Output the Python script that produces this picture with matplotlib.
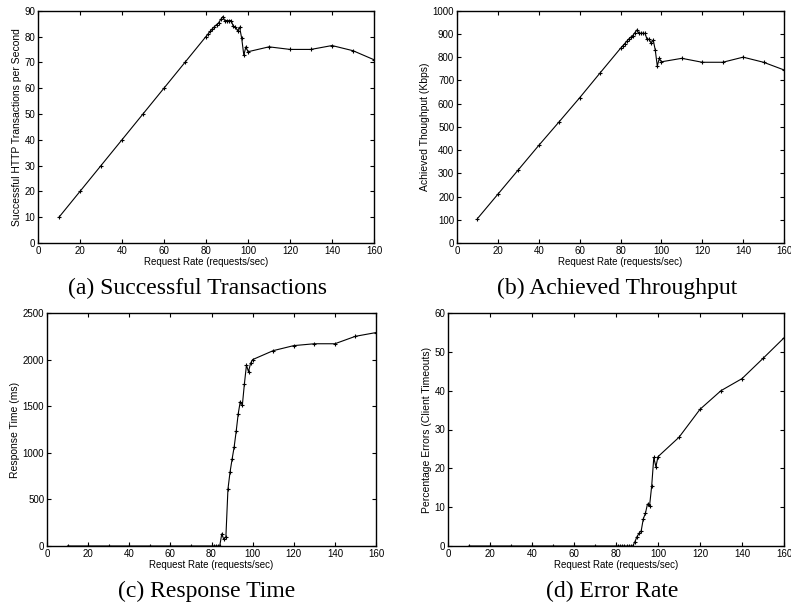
import matplotlib
matplotlib.use("Agg")
import matplotlib.pyplot as plt

# ---- data ----
rate_low = [10, 20, 30, 40, 50, 60, 70]
rate_dense = [80, 81, 82, 83, 84, 85, 86, 87, 88, 89, 90, 91, 92, 93, 94, 95, 96, 97, 98, 99, 100]
rate_high = [110, 120, 130, 140, 150, 160]
rates = rate_low + rate_dense + rate_high

trans_low = [10, 20, 30, 40, 50, 60, 70]
trans_dense = [80, 81, 82, 83, 83.8, 84.6, 85.3, 86.6, 87.7, 86.1, 86.2, 86.1, 86.2, 83.9, 83.7,
               82.3, 83.6, 79.3, 72.8, 76, 74.1]
trans_high = [76, 75, 75, 76.5, 74.5, 71]

thr_low = [105, 210, 315, 420, 522, 625, 732]
thr_dense = [838, 848, 858, 868, 878, 886, 893, 905, 917, 903, 903, 903, 902, 877, 877,
             860, 874, 831, 762, 795, 780]
thr_high = [795, 778, 778, 800, 778, 745]

resp_low = [0, 0, 0, 0, 0, 0, 0]
resp_dense = [0, 0, 0, 0, 0, 130, 70, 100, 610, 790, 930, 1060, 1230, 1420, 1550,
              1510, 1740, 1940, 1870, 1960, 2000]
resp_high = [2096, 2150, 2170, 2170, 2250, 2290]

err_low = [0, 0, 0, 0, 0, 0, 0]
err_dense = [0, 0, 0, 0, 0, 0, 0, 0, 0, 1.1, 2.4, 3.3, 3.9, 7.0, 8.4,
             10.8, 10.4, 15.5, 22.8, 20.4, 23]
err_high = [28, 35.2, 40, 43.1, 48.3, 53.6]

panels = [
    dict(y=trans_low + trans_dense + trans_high, ylim=(0, 90), ystep=10,
         ylabel="Successful HTTP Transactions per Second", caption="(a) Successful Transactions",
         rect=[38, 10.7, 374, 243], cx=198),
    dict(y=thr_low + thr_dense + thr_high, ylim=(0, 1000), ystep=100,
         ylabel="Achieved Thoughput (Kbps)", caption="(b) Achieved Throughput",
         rect=[457, 10.7, 784, 243], cx=617),
    dict(y=resp_low + resp_dense + resp_high, ylim=(0, 2500), ystep=500,
         ylabel="Response Time (ms)", caption="(c) Response Time",
         rect=[47, 313, 376, 546], cx=207),
    dict(y=err_low + err_dense + err_high, ylim=(0, 60), ystep=10,
         ylabel="Percentage Errors (Client Timeouts)", caption="(d) Error Rate",
         rect=[448, 313, 784, 546], cx=612),
]

W, H = 791, 605
fig = plt.figure(figsize=(W / 100, H / 100), dpi=100)
sans = ["Liberation Sans", "DejaVu Sans"]
serif = ["Liberation Serif", "DejaVu Serif"]

for p in panels:
    x0, y0, x1, y1 = p["rect"]
    ax = fig.add_axes([x0 / W, 1 - y1 / H, (x1 - x0) / W, (y1 - y0) / H])
    ax.plot(rates, p["y"], color="black", lw=0.8, marker="+", ms=3.2, mew=0.8)
    ax.set_xlim(0, 160)
    ax.set_ylim(*p["ylim"])
    ax.set_xticks(range(0, 161, 20))
    ax.set_yticks(range(p["ylim"][0], p["ylim"][1] + 1, p["ystep"]))
    ax.tick_params(direction="in", top=True, right=True, length=3, width=0.8,
                   labelsize=7, pad=2)
    for lab in ax.get_xticklabels() + ax.get_yticklabels():
        lab.set_family(sans)
    for s in ax.spines.values():
        s.set_linewidth(1.0)
    ax.set_xlabel("Request Rate (requests/sec)", fontsize=7, family=sans, labelpad=1)
    ax.set_ylabel(p["ylabel"], fontsize=7.5, family=sans, labelpad=2)
    fig.text(p["cx"] / W, 1 - (y1 + 45) / H, p["caption"], ha="center", va="center",
             fontsize=17, family=serif)

fig.savefig("out.png", dpi=100)
